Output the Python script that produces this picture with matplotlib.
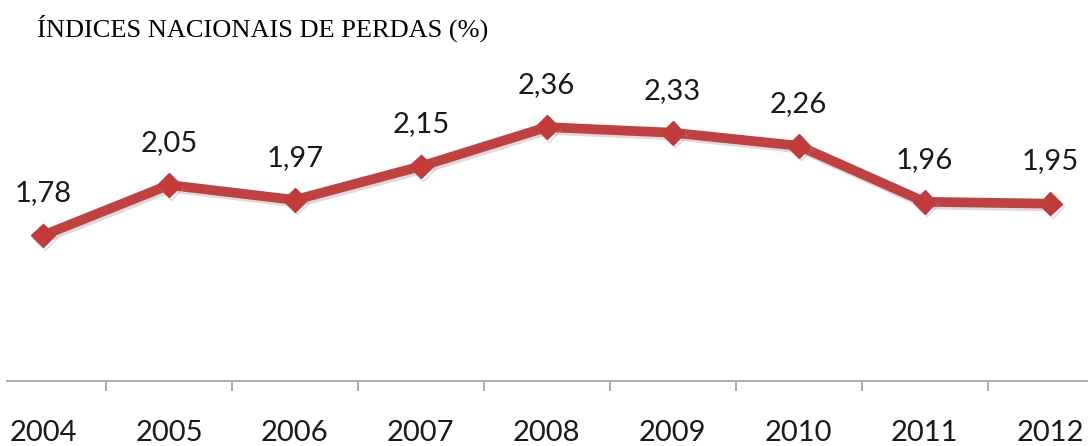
import matplotlib
matplotlib.use("Agg")
import matplotlib.pyplot as plt
import matplotlib.patheffects as pe

years = ["2004", "2005", "2006", "2007", "2008", "2009", "2010", "2011", "2012"]
perdas = [1.78, 2.05, 1.97, 2.15, 2.36, 2.33, 2.26, 1.96, 1.95]
labels = ["1,78", "2,05", "1,97", "2,15", "2,36", "2,33", "2,26", "1,96", "1,95"]

W, H = 1091, 446
fig = plt.figure(figsize=(W / 100, H / 100), dpi=100)
fig.patch.set_facecolor("white")

# axes box in pixels: x 7..1087, y 101..381 (from top)
ax = fig.add_axes([7 / W, 65 / H, 1080 / W, 280 / H])
x = list(range(len(years)))

line_col = "#c0413f"
shadow = [pe.SimpleLineShadow(offset=(1.5, -2), shadow_color="#999999", alpha=0.35),
          pe.Normal()]
ax.plot(x, perdas, color=line_col, lw=7, marker="D", markersize=12,
        markerfacecolor="#c33a3a", markeredgecolor="#c33a3a",
        solid_joinstyle="round", path_effects=shadow, zorder=3)

for xi, yi, lab in zip(x, perdas, labels):
    ax.annotate(lab, (xi, yi), xytext=(0, 21), textcoords="offset points",
                ha="center", va="bottom", fontsize=21, family="Lato",
                color="#1a1a1a")

ax.set_xlim(-0.286, 8.29)
ax.set_ylim(1.0, 2.5)

for s in ["top", "left", "right"]:
    ax.spines[s].set_visible(False)
ax.spines["bottom"].set_color("#a6a6a6")
ax.spines["bottom"].set_linewidth(1.3)

ax.set_yticks([])
ax.set_xticks(x)
ax.set_xticklabels(years, fontsize=21, family="Lato", color="#1a1a1a")
ax.tick_params(axis="x", which="major", length=0, pad=28)
ax.set_xticks([i + 0.5 for i in x[:-1]], minor=True)
ax.tick_params(axis="x", which="minor", length=7.5, width=1.3, color="#a6a6a6")

fig.text(37 / W, 1 - 37 / H, "ÍNDICES NACIONAIS DE PERDAS (%)",
         family="Liberation Serif", fontsize=19, ha="left", va="baseline",
         color="black")

fig.savefig("out.png", dpi=100, facecolor="white")
